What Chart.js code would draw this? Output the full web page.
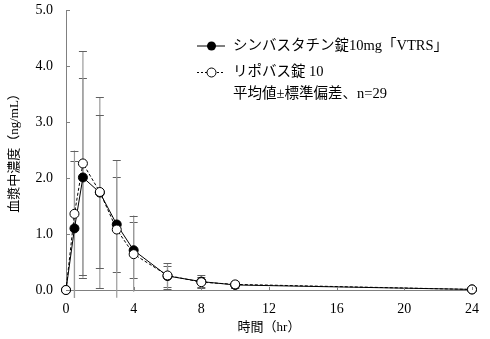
<!DOCTYPE html>
<html>
<head>
<meta charset="utf-8">
<script src="https://cdn.jsdelivr.net/npm/chart.js@4.4.0/dist/chart.umd.min.js"></script>
<style>
  html, body { margin: 0; padding: 0; background: #fff; }
  #wrap { width: 490px; height: 339px; }
</style>
</head>
<body>
<div id="wrap"><canvas id="pkChart" width="490" height="339"></canvas></div>
<script>
// 時間 (hr)
const times = [0, 0.5, 1, 2, 3, 4, 6, 8, 10, 24];

// シンバスタチン錠10mg「VTRS」 (平均値, 上限, 下限)
const vtrsMean  = [0, 1.10, 2.01, 1.74, 1.17, 0.71, 0.25, 0.15, 0.09, 0.01];
const vtrsUpper = [null, 2.30, 3.78, 3.44, 2.01, 1.21, 0.43, 0.26, 0.16, null];
const vtrsLower = [null, -0.14, 0.22, 0.03, 0.33, 0.21, 0.06, 0.05, 0.03, null];

// リポバス錠 10
const lipoMean  = [0, 1.36, 2.26, 1.75, 1.08, 0.64, 0.26, 0.14, 0.10, 0.01];
const lipoUpper = [null, 2.49, 4.27, 3.12, 2.32, 1.33, 0.48, 0.24, 0.16, null];
const lipoLower = [null, -0.14, 0.26, 0.39, -0.14, -0.03, 0.02, 0.04, 0.03, null];

const seriesLabels = ['シンバスタチン錠10mg「VTRS」', 'リポバス錠 10'];
const noteText = '平均値±標準偏差、n=29';
const xTicks = [0, 4, 8, 12, 16, 20, 24];
const yTicks = [0, 1, 2, 3, 4, 5];

const FONT = "'Liberation Serif', 'Noto Sans CJK JP', serif";
const AXIS_GREY = '#808080';

const toPoints = (ys) => times.map((t, i) => ({ x: t, y: ys[i] }));

// error bars drawn behind the markers
const errorBars = {
  id: 'errorBars',
  beforeDatasetsDraw(chart) {
    const { ctx, scales: { x, y } } = chart;
    const sets = [[vtrsUpper, vtrsLower], [lipoUpper, lipoLower]];
    ctx.save();
    sets.forEach(([up, lo]) => {
      times.forEach((t, i) => {
        if (up[i] == null) return;
        const px = x.getPixelForValue(t);
        const pTop = y.getPixelForValue(up[i]);
        const pBot = y.getPixelForValue(lo[i]);
        ctx.strokeStyle = '#9a9a9a';
        ctx.lineWidth = 1.2;
        ctx.beginPath();
        ctx.moveTo(px, pTop);
        ctx.lineTo(px, pBot);
        ctx.stroke();
        ctx.strokeStyle = '#606060';
        ctx.lineWidth = 1;
        [up[i], lo[i]].forEach(v => {
          if (v < 0) return;
          const py = Math.round(y.getPixelForValue(v)) + 0.5;
          ctx.beginPath();
          ctx.moveTo(px - 4, py);
          ctx.lineTo(px + 4, py);
          ctx.stroke();
        });
      });
    });
    ctx.restore();
  }
};

// inward tick marks and the legend block
const decorations = {
  id: 'decorations',
  afterDraw(chart) {
    const { ctx, scales: { x, y }, chartArea } = chart;
    ctx.save();
    ctx.strokeStyle = AXIS_GREY;
    ctx.lineWidth = 1;
    yTicks.forEach(v => {
      const py = Math.round(y.getPixelForValue(v)) + 0.5;
      ctx.beginPath();
      ctx.moveTo(chartArea.left, py);
      ctx.lineTo(chartArea.left + 4, py);
      ctx.stroke();
    });
    xTicks.slice(1).forEach(v => {
      const px = Math.round(x.getPixelForValue(v)) + 0.5;
      ctx.beginPath();
      ctx.moveTo(px, chartArea.bottom);
      ctx.lineTo(px, chartArea.bottom - 3);
      ctx.stroke();
    });

    // legend
    const lx0 = 197, lx1 = 225, cx = 211.5, tx = 233;
    const rows = [46, 72.5, 94];
    ctx.fillStyle = '#000';
    ctx.font = '14.5px ' + FONT;
    ctx.textBaseline = 'middle';
    ctx.textAlign = 'left';

    ctx.strokeStyle = '#000';
    ctx.setLineDash([]);
    ctx.beginPath();
    ctx.moveTo(lx0, rows[0]);
    ctx.lineTo(lx1, rows[0]);
    ctx.stroke();
    ctx.beginPath();
    ctx.arc(cx, rows[0], 4.5, 0, Math.PI * 2);
    ctx.fill();
    ctx.fillText(seriesLabels[0], tx, rows[0]);

    ctx.setLineDash([2, 2]);
    ctx.beginPath();
    ctx.moveTo(lx0, rows[1]);
    ctx.lineTo(lx1, rows[1]);
    ctx.stroke();
    ctx.setLineDash([]);
    ctx.beginPath();
    ctx.arc(cx, rows[1], 4.5, 0, Math.PI * 2);
    ctx.fillStyle = '#fff';
    ctx.fill();
    ctx.stroke();
    ctx.fillStyle = '#000';
    ctx.fillText(seriesLabels[1], tx, rows[1]);

    ctx.fillText(noteText, tx, rows[2]);
    ctx.restore();
  }
};

new Chart(document.getElementById('pkChart'), {
  type: 'line',
  data: {
    datasets: [
      {
        label: seriesLabels[1],
        data: toPoints(lipoMean),
        borderColor: '#000',
        borderWidth: 1,
        borderDash: [3, 2],
        pointBackgroundColor: '#fff',
        pointBorderColor: '#000',
        pointBorderWidth: 1,
        pointRadius: 4.5,
        tension: 0,
        clip: false
      },
      {
        label: seriesLabels[0],
        data: toPoints(vtrsMean),
        borderColor: '#000',
        borderWidth: 1,
        pointBackgroundColor: '#000',
        pointBorderColor: '#000',
        pointBorderWidth: 1,
        pointRadius: 4.5,
        tension: 0,
        clip: false
      }
    ]
  },
  options: {
    responsive: false,
    animation: false,
    events: [],
    layout: { padding: { left: 0, right: 13, top: 0, bottom: 0 } },
    plugins: { legend: { display: false }, tooltip: { enabled: false } },
    scales: {
      x: {
        type: 'linear',
        min: 0,
        max: 24,
        afterFit: s => { s.height = 49; },
        afterBuildTicks: s => { s.ticks = xTicks.map(v => ({ value: v })); },
        grid: { display: false, drawTicks: false },
        border: { display: true, color: AXIS_GREY, width: 1 },
        ticks: { padding: 11, color: '#000', font: { family: FONT, size: 14 }, maxRotation: 0 },
        title: { display: true, text: '時間（hr）', color: '#000', padding: 4, font: { family: FONT, size: 13 } }
      },
      y: {
        min: 0,
        max: 5,
        afterFit: s => { s.width = 66; s.paddingTop = 10; s.paddingBottom = 0; },
        afterBuildTicks: s => { s.ticks = yTicks.map(v => ({ value: v })); },
        grid: { display: false, drawTicks: false },
        border: { display: true, color: AXIS_GREY, width: 1 },
        ticks: { padding: 13, color: '#000', font: { family: FONT, size: 14 }, callback: v => v.toFixed(1) },
        title: { display: true, text: '血漿中濃度（ng/mL）', color: '#000', padding: { top: 7, bottom: 0 }, font: { family: FONT, size: 13 } }
      }
    }
  },
  plugins: [errorBars, decorations]
});
</script>
</body>
</html>
